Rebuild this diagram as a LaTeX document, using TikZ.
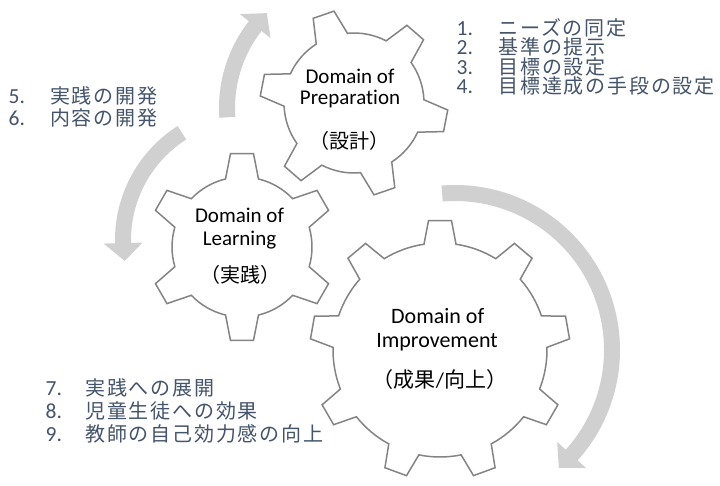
\documentclass[tikz,border=0pt]{standalone}
\usepackage{fontspec}
\setmainfont{Carlito}[Ligatures=NoCommon]
\newfontfamily\jp{Noto Sans CJK JP}
\newfontfamily\jpls{Noto Sans CJK JP}[LetterSpace=9]
\definecolor{gearline}{RGB}{132,132,132}
\definecolor{arrowfill}{RGB}{208,208,208}
\definecolor{listcol}{RGB}{68,84,106}
\newcommand\jl{\jpls\fontsize{20}{24}\selectfont}
\def\aw{8}
\def\ah{19.5}
% gear: #1 center, #2 outer R, #3 inner r, #4 teeth, #5 rotation, #6 tip half width, #7 base half width
\newcommand\drawgear[7]{%
  \pgfmathsetmacro\gearBt{asin(#7/#3)}%
  \pgfmathsetmacro\gearTt{asin(#6/#2)}%
  \pgfmathsetmacro\gearSt{360/#4}%
  \pgfmathsetmacro\gearA{#5-\gearBt}%
  \draw[gearstyle, shift={(#1)}] (\gearA:#3)
    \foreach \k in {1,...,#4} {
      -- ({#5+(\k-1)*\gearSt-\gearTt}:#2)
      -- ({#5+(\k-1)*\gearSt+\gearTt}:#2)
      -- ({#5+(\k-1)*\gearSt+\gearBt}:#3)
      arc[start angle={#5+(\k-1)*\gearSt+\gearBt}, end angle={#5+\k*\gearSt-\gearBt}, radius=#3]
    } -- cycle;
}
% circular arrow: #1 center, #2 mid radius, #3 start angle, #4 head base angle, #5 tip angle
\newcommand\drawcircarrow[5]{%
  \pgfmathsetmacro\arOut{#2+\aw}\pgfmathsetmacro\arIn{#2-\aw}%
  \pgfmathsetmacro\hdOut{#2+\ah}\pgfmathsetmacro\hdIn{#2-\ah}%
  \fill[arrowfill, shift={(#1)}] (#3:\arOut) arc[start angle=#3, end angle=#4, radius=\arOut]
    -- (#4:\hdOut) -- (#5:#2) -- (#4:\hdIn) -- (#4:\arIn)
    arc[start angle=#4, end angle=#3, radius=\arIn] -- cycle;
}
\begin{document}
\begin{tikzpicture}[x=1pt,y=1pt,
  gearstyle/.style={draw=gearline, line width=1.5pt, fill=white, line join=miter},
  gtxt/.style={inner sep=0pt, anchor=base, font=\fontsize{21}{25}\selectfont},
  gtxtb/.style={inner sep=0pt, anchor=base, font=\fontsize{22}{26}\selectfont},
  gjp/.style={inner sep=0pt, font=\jp\fontsize{20}{24}\selectfont},
  gjpb/.style={inner sep=0pt, font=\jp\fontsize{21}{25}\selectfont},
  ltxt/.style={inner sep=0pt, anchor=base west, text=listcol, font=\fontsize{21.5}{24}\selectfont}]
\useasboundingbox (0,0) rectangle (720,485);
\fill[white] (0,0) rectangle (720,485);
\coordinate (g1) at (354,382);
\coordinate (g2) at (242,238);
\coordinate (g3) at (440,135);
\coordinate (a1) at (360,377);
\coordinate (a2) at (250,245);
\coordinate (a3) at (455,135);
% arrows
\drawcircarrow{a1}{133}{184}{142}{134.5}
\drawcircarrow{a2}{127}{122.4}{181.4}{189.5}
\drawcircarrow{a3}{157}{94.7}{-42}{-48.6}
% gears
\drawgear{g1}{94}{70}{6}{109}{11}{16.5}
\drawgear{g2}{94}{70}{6}{90}{11.5}{16.5}
\drawgear{g3}{130}{107}{9}{90}{11.5}{16}
% gear texts
\node[gtxt] (p1) at (350,401.7) {Domain of};
\node[gtxt] (p2) at (350,380) {Preparation};
\node[gjp] (p3) at (349.2,344.3) {（設計）};
\node[gtxt] (q1) at (239.5,262.3) {Domain of};
\node[gtxt] (q2) at (239.5,239) {Learning};
\node[gjp] (q3) at (240.8,210) {（実践）};
\node[gtxtb] (r1) at (437.7,161) {Domain of};
\node[gtxtb] (r2) at (437,137.3) {Improvement};
\node[gjpb] (r3) at (440,105) {（成果{\fontspec{Carlito}/}向上）};
% lists
\node[ltxt] (n1) at (456.5,449.7) {\makebox[41.8pt][l]{1.}{\jl ニーズの同定}};
\node[ltxt] (n2) at (456.5,430.3) {\makebox[41.8pt][l]{2.}{\jl 基準の提示}};
\node[ltxt] (n3) at (456.5,410.9) {\makebox[41.8pt][l]{3.}{\jl 目標の設定}};
\node[ltxt] (n4) at (456.5,391.5) {\makebox[41.8pt][l]{4.}{\jl 目標達成の手段の設定}};
\node[ltxt] (n5) at (8.5,381) {\makebox[41.5pt][l]{5.}{\jl 実践の開発}};
\node[ltxt] (n6) at (8.5,359) {\makebox[41.5pt][l]{6.}{\jl 内容の開発}};
\node[ltxt] (n7) at (45.5,89.3) {\makebox[39.5pt][l]{7.}{\jl 実践への展開}};
\node[ltxt] (n8) at (45.5,66.7) {\makebox[39.5pt][l]{8.}{\jl 児童生徒への効果}};
\node[ltxt] (n9) at (45.5,43.3) {\makebox[39.5pt][l]{9.}{\jl 教師の自己効力感の向上}};
\end{tikzpicture}
\end{document}
